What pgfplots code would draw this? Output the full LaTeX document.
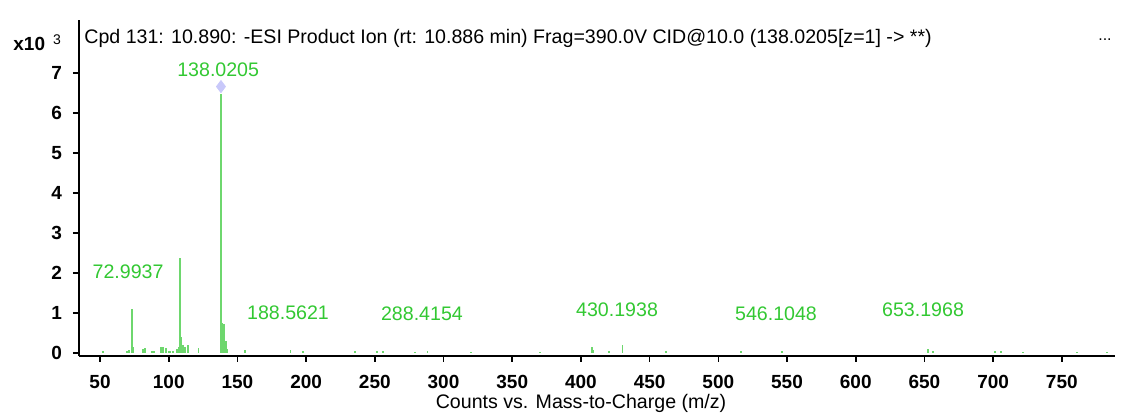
\documentclass[border=0pt]{standalone}
\usepackage{pgfplots}
\pgfplotsset{compat=1.18}
\usepackage{fontspec}
\setmainfont{Liberation Sans}
\definecolor{peakgreen}{RGB}{110,215,110}
\definecolor{labelgreen}{RGB}{50,200,50}
\definecolor{dia}{RGB}{200,200,250}
\begin{document}
\begin{tikzpicture}
\begin{axis}[
  at={(0,0)}, anchor=south west,
  scale only axis, width=518pt, height=168pt,
  xmin=34.7, xmax=788.7, ymin=-0.075, ymax=8.325,
  axis x line=bottom, axis y line=left,
  axis line style={black, line width=0.9pt, -},
  xtick={50,100,...,750}, ytick={0,1,...,7},
  tick align=outside, major tick length=3pt,
  tick style={black, line width=0.8pt},
  /pgf/number format/assume math mode=true,
  /pgf/number format/1000 sep={},
  ticklabel style={font=\fontsize{9.5}{10}\selectfont\bfseries},
  xticklabel style={yshift=-3pt},
  yticklabel style={xshift=-2pt},
  clip=false,
]
\addplot+[ycomb, no markers, draw=peakgreen, line width=0.9pt] coordinates {
(52.4,0.05) (69.4,0.05) (71.1,0.07) (72.99,1.09) (74.2,0.16)
(81.5,0.1) (82.7,0.13) (88.0,0.05) (89.2,0.05) (94.4,0.16) (96.1,0.15) (98.0,0.12)
(99.8,0.05) (101.2,0.05) (103.0,0.05) (105.8,0.1) (107.3,0.15) (108.0,2.38) (108.7,0.4)
(109.7,0.15) (110.6,0.2) (111.9,0.15) (114.3,0.2) (121.6,0.12)
(138.0205,6.48) (138.7,0.75) (140.3,0.73) (141.5,0.3) (142.3,0.1) (155.5,0.07)
(188.56,0.07) (197.5,0.04) (235.6,0.04) (251.4,0.04) (256.2,0.04)
(279.3,0.03) (288.4,0.06) (319.8,0.03) (370.2,0.03) (408.0,0.16) (409.2,0.08)
(420.2,0.04) (430.19,0.21) (462.0,0.04) (516.3,0.04) (546.1,0.04)
(652.4,0.11) (656.0,0.06) (701.4,0.04) (705.5,0.04) (722.0,0.03) (761.0,0.03) (782.7,0.03)
};
\addplot+[only marks, mark=diamond*, mark size=3pt, mark options={fill=dia, draw=dia}] coordinates {(138.0205,6.66)};
\begin{scope}[every node/.style={font=\fontsize{9.8}{10}\selectfont, text=labelgreen}]
\node at (axis cs:136,7.08) {138.0205};
\node at (axis cs:70.4,2.03) {72.9937};
\node at (axis cs:186.8,1.0) {188.5621};
\node at (axis cs:284.3,0.98) {288.4154};
\node at (axis cs:426.3,1.08) {430.1938};
\node at (axis cs:542,0.98) {546.1048};
\node at (axis cs:649,1.08) {653.1968};
\end{scope}
\node[anchor=west, inner sep=0pt, font=\fontsize{9.8}{10}\selectfont] at ([xshift=2.5pt, yshift=-9pt]rel axis cs:0,1) {Cpd 131: 10.890: -ESI Product Ion (rt: 10.886 min) Frag=390.0V CID@10.0 (138.0205[z=1] -> **)};
\node[inner sep=0pt, font=\fontsize{8}{9}\selectfont] at ([xshift=513pt, yshift=-10pt]rel axis cs:0,1) {...};
\node[anchor=west, inner sep=0pt, font=\fontsize{9.5}{10}\selectfont] at ([xshift=-33pt, yshift=-11.5pt]rel axis cs:0,1) {\textbf{x10}\hspace{4pt}\raisebox{0.6ex}{\fontsize{7}{7}\selectfont 3}};
\node[font=\fontsize{9.8}{10}\selectfont] at ([yshift=-23.5pt]rel axis cs:0.4846,0) {Counts vs. Mass-to-Charge (m/z)};
\end{axis}
\pgfresetboundingbox
\path (-39.5pt,-29.5pt) rectangle (521.5pt,178pt);
\end{tikzpicture}
\end{document}
